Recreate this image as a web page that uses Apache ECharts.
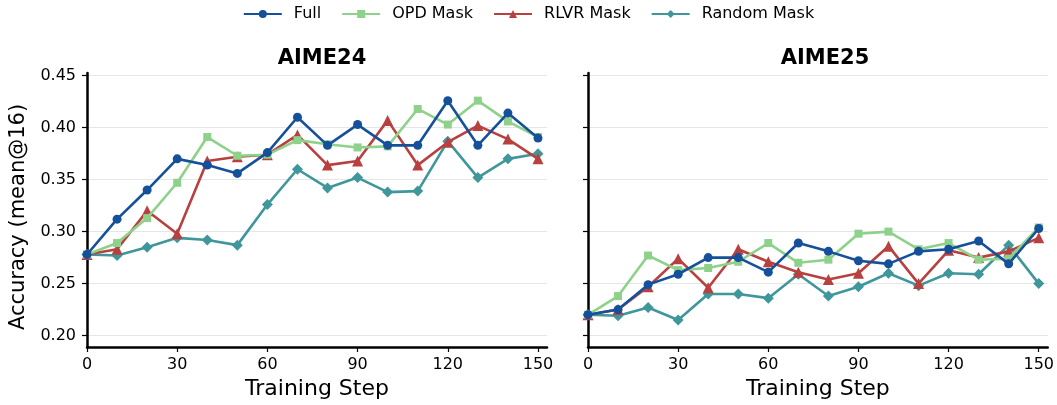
<!DOCTYPE html>
<html>
<head>
<meta charset="utf-8">
<script src="https://cdn.jsdelivr.net/npm/echarts@6/dist/echarts.min.js"></script>
<style>
html,body{margin:0;padding:0;background:#fff;}
#main{width:1057px;height:405px;}
</style>
</head>
<body>
<div id="main"></div>
<script>
const steps = [0,10,20,30,40,50,60,70,80,90,100,110,120,130,140,150];
const xTicks = [0,30,60,90,120,150];
const yTicks = [0.20,0.25,0.30,0.35,0.40,0.45];
const seriesNames = ['Full','OPD Mask','RLVR Mask','Random Mask'];
const panelTitles = ['AIME24','AIME25'];

// AIME24
const full24   = [0.278,0.312,0.340,0.370,0.364,0.356,0.376,0.410,0.383,0.403,0.383,0.383,0.426,0.383,0.414,0.390];
const opd24    = [0.278,0.289,0.313,0.347,0.391,0.373,0.374,0.388,0.384,0.381,0.382,0.418,0.403,0.426,0.406,0.391];
const rlvr24   = [0.278,0.283,0.320,0.298,0.368,0.372,0.374,0.393,0.364,0.368,0.407,0.364,0.386,0.402,0.389,0.370];
const random24 = [0.278,0.277,0.285,0.294,0.292,0.287,0.326,0.360,0.342,0.352,0.338,0.339,0.387,0.352,0.370,0.375];
// AIME25
const full25   = [0.220,0.225,0.249,0.259,0.275,0.275,0.261,0.289,0.281,0.272,0.269,0.281,0.283,0.291,0.269,0.303];
const opd25    = [0.220,0.238,0.277,0.263,0.265,0.271,0.289,0.270,0.273,0.298,0.300,0.283,0.289,0.273,0.274,0.304];
const rlvr25   = [0.220,0.225,0.247,0.274,0.246,0.283,0.271,0.261,0.254,0.260,0.286,0.250,0.282,0.275,0.281,0.294];
const random25 = [0.220,0.219,0.227,0.215,0.240,0.240,0.236,0.259,0.238,0.247,0.260,0.248,0.260,0.259,0.287,0.250];

const colors = ['#15509a','#8ed18a','#b8413f','#3f969b'];
const symbols = ['circle','rect','triangle','diamond'];
const symSizes = [9,8,11,11];

const panels = [[full24,opd24,rlvr24,random24],[full25,opd25,rlvr25,random25]];
const font = 'DejaVu Sans';

const grids = [
  {left:87, top:73, width:460, height:277},
  {left:588, top:73, width:464, height:277}
];

const xAxes = grids.map((g,i)=>({
  type:'value', gridIndex:i, min:0, max:153,
  name:'Training Step', nameLocation:'middle', nameGap:31,
  nameTextStyle:{fontFamily:font, fontSize:22, color:'#000'},
  axisLine:{show:true, onZero:false, lineStyle:{color:'#000', width:2.5}},
  axisTick:{show:true, length:5, lineStyle:{color:'#000', width:1.2}, customValues:xTicks},
  axisLabel:{fontFamily:font, fontSize:16, color:'#000', margin:10, customValues:xTicks},
  splitLine:{show:false}
}));

const yAxes = grids.map((g,i)=>({
  type:'value', gridIndex:i, min:0.189, max:0.4526,
  name: i===0 ? 'Accuracy (mean@16)' : '', nameLocation:'middle', nameGap:58,
  nameTextStyle:{fontFamily:font, fontSize:21, color:'#000', padding:[0,14,0,0]},
  axisLine:{show:true, onZero:false, lineStyle:{color:'#000', width:2.5}},
  axisTick:{show:true, length:5, lineStyle:{color:'#000', width:1.2}, customValues:yTicks},
  axisLabel:{show: i===0, fontFamily:font, fontSize:16, color:'#000', margin:11, customValues:yTicks,
    formatter:v=>v.toFixed(2)},
  splitLine:{show:true, lineStyle:{color:'#e6e6e6', width:1.2}}
}));

const series = [];
panels.forEach((panel,pi)=>{
  panel.forEach((vals,si)=>{
    series.push({
      name:seriesNames[si], type:'line', xAxisIndex:pi, yAxisIndex:pi,
      data: steps.map((s,k)=>[s, vals[k]]),
      symbol:symbols[si], symbolSize:symSizes[si], showAllSymbol:true,
      lineStyle:{color:colors[si], width:2.6},
      itemStyle:{color:colors[si]},
      z: 10 - si,
      animation:false
    });
  });
});

const chart = echarts.init(document.getElementById('main'), null, {renderer:'canvas'});
chart.setOption({
  animation:false,
  backgroundColor:'#fff',
  title: panelTitles.map((t,i)=>({
    text:t, left: grids[i].left + grids[i].width/2, top:43, textAlign:'center',
    textStyle:{fontFamily:font, fontSize:21, fontWeight:'bold', color:'#000'}
  })),
  legend:{
    data:seriesNames, top:1, left:'center', itemWidth:38, itemHeight:10, itemGap:20,
    textStyle:{fontFamily:font, fontSize:16, color:'#000', padding:[0,0,0,7]}
  },
  grid:grids,
  xAxis:xAxes,
  yAxis:yAxes,
  series:series
});
</script>
</body>
</html>
